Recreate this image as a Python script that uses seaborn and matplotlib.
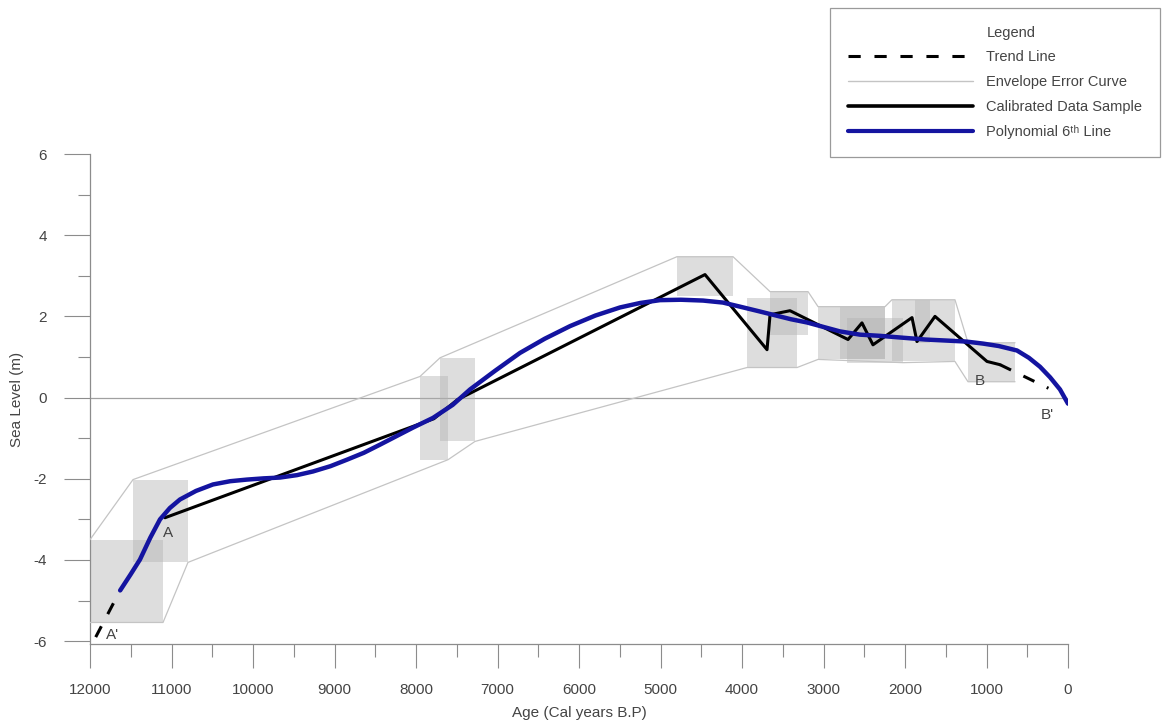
import matplotlib
matplotlib.use("Agg")
import matplotlib.pyplot as plt
from matplotlib.lines import Line2D
import seaborn as sns

# polynomial (6th order) curve
poly_age = [11630, 11500, 11387, 11260, 11141, 11020, 10896, 10700, 10491, 10280,
            10074, 9870, 9669, 9460, 9264, 9050, 8847, 8640, 8442, 8240,
            8037, 7791, 7550, 7337, 7030, 6724, 6420, 6110, 5800, 5497,
            5250, 5006, 4750, 4479, 4233, 4025, 3800, 3620, 3400, 3202,
            3000, 2798, 2552, 2300, 2061, 1750, 1448, 1250, 1043, 850,
            626, 480, 344, 220, 98, 0]
poly_level = [-4.75, -4.35, -3.99, -3.45, -3.00, -2.72, -2.51, -2.30, -2.14, -2.06,
              -2.02, -1.99, -1.97, -1.91, -1.82, -1.69, -1.53, -1.36, -1.16, -0.95,
              -0.74, -0.50, -0.18, 0.20, 0.66, 1.10, 1.45, 1.76, 2.02, 2.22,
              2.33, 2.40, 2.41, 2.39, 2.34, 2.24, 2.13, 2.04, 1.93, 1.85,
              1.74, 1.63, 1.55, 1.52, 1.48, 1.43, 1.40, 1.38, 1.33, 1.27,
              1.16, 0.98, 0.76, 0.50, 0.20, -0.15]

# calibrated samples
cal_age = [11080, 7780, 7490, 4454, 3693, 3656, 3411, 2699, 2528, 2393, 1914, 1853, 1632, 994, 834]
cal_level = [-2.96, -0.52, -0.05, 3.03, 1.18, 2.04, 2.14, 1.43, 1.84, 1.30, 1.97, 1.38, 2.00, 0.89, 0.81]

# trend lines (A' - start, B - B')
trend_old_age = [11930, 11630]
trend_old_level = [-5.90, -4.75]
trend_young_age = [834, 240]
trend_young_level = [0.81, 0.23]

# error boxes
box_age_old = [12000, 11472, 7951, 7705, 4798, 3939, 3656, 3067, 2798, 2712, 2160, 1877, 1227]
box_age_young = [11104, 10798, 7607, 7276, 4110, 3325, 3190, 2245, 2245, 2025, 1387, 1693, 650]
box_low = [-5.54, -4.06, -1.53, -1.08, 2.51, 0.74, 1.55, 0.94, 0.94, 0.86, 0.89, 1.35, 0.39]
box_high = [-3.50, -2.02, 0.52, 0.98, 3.47, 2.46, 2.61, 2.24, 2.24, 1.97, 2.41, 2.41, 1.35]

# envelope error curve
env_up_age = [12000, 11472, 7951, 7705, 4798, 4110, 3656, 3190, 3067, 2245, 2160, 1387, 1227, 650]
env_up_level = [-3.50, -2.02, 0.52, 0.98, 3.47, 3.47, 2.61, 2.61, 2.24, 2.24, 2.41, 2.41, 1.35, 1.35]
env_lo_age = [12000, 11104, 10798, 7607, 7276, 3939, 3325, 3067, 2025, 1387, 1227, 650]
env_lo_level = [-5.54, -5.54, -4.06, -1.53, -1.08, 0.74, 0.74, 0.94, 0.86, 0.89, 0.39, 0.39]

point_names = ["A", "A'", "B", "B'"]
point_age = [11043, 11718, 1080, 258]
point_level = [-3.33, -5.86, 0.42, -0.42]

sns.set_style("ticks")
plt.rcParams['font.family'] = ['Liberation Sans', 'DejaVu Sans']
plt.rcParams['axes.unicode_minus'] = False

fig = plt.figure(figsize=(11.72, 7.22), dpi=100)
ax = fig.add_axes([90 / 1172, 1 - 644 / 722, 978 / 1172, 490 / 722])

grey = '#8c8c8c'
ax.axhline(0, color='#a0a0a0', lw=0.9, zorder=1)

for x0, x1, lo, hi in zip(box_age_old, box_age_young, box_low, box_high):
    ax.fill_between([x0, x1], lo, hi, color='#b0b0b0', alpha=0.42, lw=0, zorder=2)

sns.lineplot(x=env_up_age, y=env_up_level, ax=ax, sort=False, estimator=None,
             color='#c4c4c4', lw=0.9, zorder=3)
sns.lineplot(x=env_lo_age, y=env_lo_level, ax=ax, sort=False, estimator=None,
             color='#c4c4c4', lw=0.9, zorder=3)

sns.lineplot(x=cal_age, y=cal_level, ax=ax, sort=False, estimator=None,
             color='black', lw=2.2, zorder=4)
sns.lineplot(x=trend_old_age, y=trend_old_level, ax=ax, sort=False, estimator=None,
             color='black', lw=2.2, linestyle=(0, (4, 4.5)), zorder=4)
sns.lineplot(x=trend_young_age, y=trend_young_level, ax=ax, sort=False, estimator=None,
             color='black', lw=2.2, linestyle=(0, (4, 4.5)), zorder=4)
sns.lineplot(x=poly_age, y=poly_level, ax=ax, sort=False, estimator=None,
             color='#1414a0', lw=3.2, zorder=5)

for name, xa, ya in zip(point_names, point_age, point_level):
    ax.text(xa, ya, name, fontsize=11, color='#444444', ha='center', va='center', zorder=6)

ax.set_xlim(12000, 0)
ax.set_ylim(-6.07, 6)
ax.set_xticks(range(12000, -1, -1000))
ax.set_xticks(range(11500, 0, -1000), minor=True)
ax.set_yticks(range(-6, 7, 2))
ax.set_yticks(range(-5, 6, 2), minor=True)

sns.despine(ax=ax)
for side in ['left', 'bottom']:
    ax.spines[side].set_color(grey)
    ax.spines[side].set_linewidth(0.9)

ax.tick_params(axis='x', which='major', length=17, width=0.8, color=grey, pad=11,
               labelsize=11, labelcolor='#444444')
ax.tick_params(axis='x', which='minor', length=9, width=0.8, color=grey)
ax.tick_params(axis='y', which='major', length=19, width=0.8, color=grey, pad=12,
               labelsize=11, labelcolor='#444444')
ax.tick_params(axis='y', which='minor', length=9, width=0.8, color=grey)

ax.set_xlabel("Age (Cal years B.P)", fontsize=11, color='#444444')
ax.set_ylabel("Sea Level (m)", fontsize=11, color='#444444')
ax.xaxis.set_label_coords(0.5, -0.1265)
ax.yaxis.set_label_coords(-0.0675, 0.5)

handles = [
    Line2D([], [], color='none'),
    Line2D([], [], color='black', lw=2.2, linestyle=(0, (4, 4.5))),
    Line2D([], [], color='#c4c4c4', lw=1),
    Line2D([], [], color='black', lw=2.6),
    Line2D([], [], color='#1414a0', lw=3),
]
labels = ["Legend", "Trend Line", "Envelope Error Curve", "Calibrated Data Sample",
          "Polynomial 6ᵗʰ Line"]
leg = fig.legend(handles, labels, loc='upper right',
                 bbox_to_anchor=(1160 / 1172, 1 - 8 / 722), bbox_transform=fig.transFigure,
                 borderaxespad=0, fontsize=10.5, handlelength=8.6, handletextpad=0.9,
                 labelspacing=0.75, borderpad=1.2, fancybox=False, framealpha=1,
                 edgecolor='#9a9a9a')
leg.get_frame().set_linewidth(0.9)
for t in leg.get_texts():
    t.set_color('#444444')

fig.savefig("out.png", dpi=100)
